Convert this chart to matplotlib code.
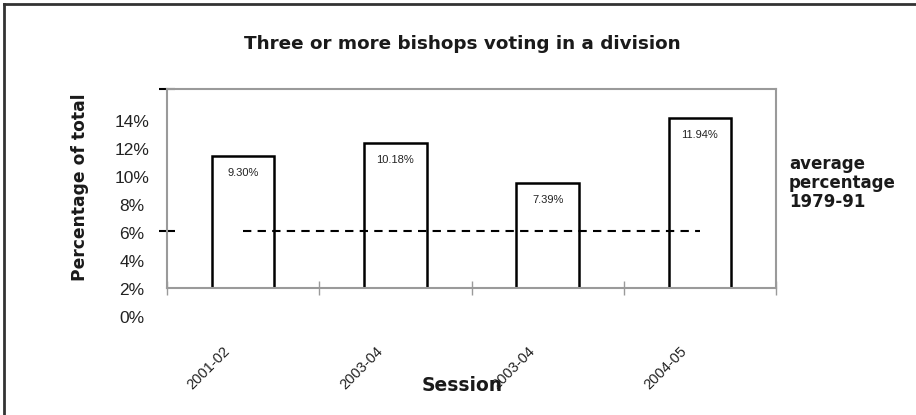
import numpy as np
import matplotlib.pyplot as plt
import matplotlib.transforms as mtransforms

plt.rcParams['font.family'] = ['Liberation Sans', 'DejaVu Sans']

sessions = ['2001-02', '2003-04', '2003-04', '2004-05']
values = [9.30, 10.18, 7.39, 11.94]
value_labels = ['9.30%', '10.18%', '7.39%', '11.94%']
average = 6
base = 2
ytick_vals = [0, 2, 4, 6, 8, 10, 12, 14]

heavy = dict(family='DejaVu Sans', fontweight='bold', color='#1a1a1a')

fig = plt.figure(figsize=(9.16, 4.15), dpi=100)
ax = fig.add_axes([167/916, 1-288/415, 609/916, 199/415])

x = np.arange(len(sessions))
ax.bar(x, values, bottom=base, width=0.41, color='white', edgecolor='black',
       linewidth=1.8, zorder=2)
for xi, v, lab in zip(x, values, value_labels):
    ax.text(xi, base + v - 1.2, lab, ha='center', va='center', fontsize=8,
            color='#222222', zorder=3)

# average line 1979-91
ax.plot([x[0], x[-1]], [average, average], color='black', linestyle=(0, (4, 3)),
        linewidth=1.5, zorder=3)

ax.set_xlim(-0.5, 3.5)
ax.set_ylim(2, 16)

for s in ax.spines.values():
    s.set_color('#9a9a9a')
    s.set_linewidth(1.5)

ax.set_xticks(np.arange(-0.5, 4.0, 1.0))
ax.set_xticklabels([])
ax.tick_params(axis='x', direction='inout', length=10, width=1, color='#9a9a9a')
ax.set_yticks([6, 16])
ax.set_yticklabels([])
ax.tick_params(axis='y', direction='inout', length=12, width=1.5, color='black')

# y labels, offset from the grid as in the original
ytr = mtransforms.blended_transform_factory(fig.transFigure, ax.transData)
for v in ytick_vals:
    ax.text(132/916, v*0.985 - 0.18, f'{v}%', transform=ytr, ha='center',
            va='center', fontsize=12.5, color='#222222', clip_on=False)

xtr = mtransforms.blended_transform_factory(ax.transData, ax.transAxes)
for xi, s in zip(x, sessions):
    ax.text(xi - 0.1, -0.305, s, transform=xtr, rotation=45, rotation_mode='anchor',
            ha='right', va='center', fontsize=10.5, color='#222222', clip_on=False)

fig.text(462/916, 1-44/415, 'Three or more bishops voting in a division',
         ha='center', va='center', fontsize=13.2, **heavy)
fig.text(462/916, 1-385/415, 'Session', ha='center', va='center', fontsize=13.5,
         **heavy)
fig.text(80/916, 1-187/415, 'Percentage of total', ha='center', va='center',
         rotation=90, fontsize=12.3, **heavy)
fig.text(789/916, 1-183/415, 'average\npercentage\n1979-91', ha='left', va='center',
         fontsize=12, linespacing=1.05, **heavy)

# border lines on the left and top of the picture
fig.add_artist(plt.Line2D([4/916, 4/916], [0, 1-4/415], color='#333333', linewidth=2))
fig.add_artist(plt.Line2D([4/916, 1], [1-4/415, 1-4/415], color='#333333', linewidth=2))

fig.savefig('out.png', dpi=100)
